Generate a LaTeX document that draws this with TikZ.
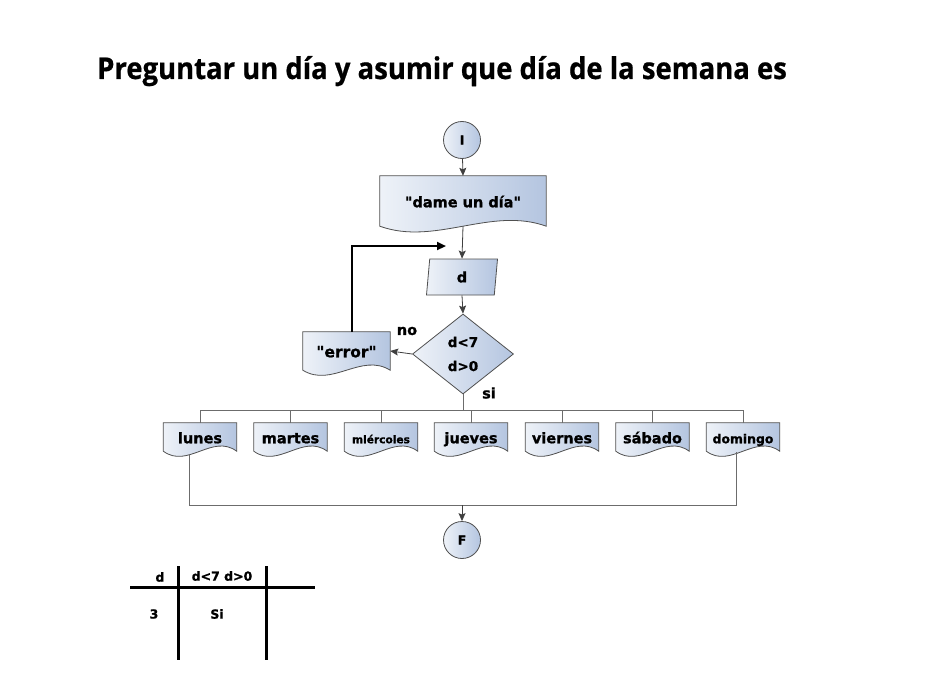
\documentclass[tikz,border=0pt]{standalone}
\usepackage{fontspec}
\setmainfont{DejaVu Sans}
\newfontfamily\titlefont[FakeStretch=0.915,FakeBold=0.6]{Open Sans Bold}
\newfontfamily\lblfont[Ligatures=TeXOff,FakeBold=1.1]{DejaVu Sans Bold}
\usetikzlibrary{shapes.geometric,calc,arrows.meta}
\definecolor{fillA}{HTML}{EEF2F8}
\definecolor{fillB}{HTML}{B4C5E0}
\definecolor{edgec}{HTML}{505050}
\definecolor{linec}{HTML}{404040}
\newcommand\wavedoc[2]{%
  \draw[docdraw] (#1.north west) -- (#1.north east) -- (#1.south east)
    .. controls ($(#1.south east)!0.333!(#1.south west)+(0,-#2)$) and ($(#1.south east)!0.667!(#1.south west)+(0,#2)$) .. (#1.south west) -- cycle;
  \node[lbl, text height=10.5pt, text depth=3pt, inner sep=0pt] at ($(#1.center)+(0,2.5)$) {\docText};}
\tikzset{
  x=1pt,y=-1pt,
  lbl/.style={font=\lblfont\fontsize{14.5}{17}\selectfont},
  shade/.style={left color=fillA, right color=fillB},
  docdraw/.style={draw=edgec, line width=0.8pt, shade},
  docnode/.style={rectangle, inner sep=0pt, minimum width=73pt, minimum height=28pt},
  circ/.style={circle, draw=edgec, line width=0.8pt, shade, minimum size=37pt, inner sep=0pt, font=\lblfont\fontsize{12.5}{14}\selectfont},
  conn/.style={draw=linec, line width=0.8pt},
  arr/.style={conn, -{Stealth[length=8pt,width=7pt,inset=1.5pt]}},
  gline/.style={draw=gray!85!black, line width=0.8pt},
  tline/.style={draw=black, line width=3pt},
  tlbl/.style={font=\lblfont\fontsize{12.5}{15}\selectfont},
}
\begin{document}
\begin{tikzpicture}
\useasboundingbox (0,0) rectangle (942,682);
\fill[white] (0,0) rectangle (942,682);
% title
\node[anchor=base west, inner sep=0pt, font=\titlefont\fontsize{30}{34}\selectfont] (title) at (97,79) {Preguntar un día y asumir que día de la semana es};
% start
\node[circ] (I) at (462,140) {I};
% document dame
\node[docnode, minimum width=166pt, minimum height=50pt] (dame) at (463,201) {};
\def\docText{"dame un día"}\wavedoc{dame}{20}
% input
\node[trapezium, trapezium left angle=74, trapezium right angle=106, trapezium stretches body, draw=edgec, line width=0.8pt, shade, minimum width=71pt, minimum height=36pt, inner sep=0pt, lbl] (d) at (462,277) {d};
% decision
\node[diamond, draw=edgec, line width=0.8pt, shade, minimum width=101pt, minimum height=80pt, inner sep=0pt, shape aspect=1.26, align=center, font=\lblfont\fontsize{13.5}{24}\selectfont] (cond) at (463,354) {d<7\\d>0};
% error
\node[docnode, minimum width=87pt, minimum height=38pt] (err) at (346.5,351) {};
\def\docText{\fontsize{15.5}{17}\selectfont"error"}\wavedoc{err}{18}
\node[lbl, inner sep=0pt] (no) at (407,331) {no};
\node[lbl, inner sep=0pt] (si) at (489,393) {si};
% days
\node[docnode] (lunes) at (200,437) {};
\def\docText{lunes}\wavedoc{lunes}{18}
\node[docnode] (martes) at (290.5,437) {};
\def\docText{martes}\wavedoc{martes}{18}
\node[docnode] (mier) at (381,437) {};
\def\docText{\fontsize{10.6}{12}\selectfont mlércoles}\wavedoc{mier}{18}
\node[docnode] (jueves) at (471,437) {};
\def\docText{jueves}\wavedoc{jueves}{18}
\node[docnode] (viernes) at (562,437) {};
\def\docText{viernes}\wavedoc{viernes}{18}
\node[docnode] (sabado) at (652.5,437) {};
\def\docText{sábado}\wavedoc{sabado}{18}
\node[docnode] (domingo) at (743,437) {};
\def\docText{\fontsize{12.4}{14}\selectfont domingo}\wavedoc{domingo}{18}
% end
\node[circ] (F) at (462,540) {F};
% connectors
\draw[arr] (I) -- (dame.north);
\draw[arr] (dame.south) -- (d.north);
\draw[arr] (d.south) -- (cond.north);
\draw[arr] (cond.west) -- (err.east);
\coordinate (loopend) at (446,246);
\draw[tline, line width=2.4pt, -{Triangle[length=9pt,width=8pt]}] (err.north -| 352,0) -- (352,246) -- (loopend);
\coordinate (branch) at (463,410);
\draw[gline] (cond.south) -- (branch);
\draw[gline] (lunes.north |- branch) -- (domingo.north |- branch);
\foreach \n in {lunes,martes,mier,jueves,viernes,sabado,domingo}
  \draw[gline] (\n.north |- branch) -- (\n.north);
\coordinate (bl) at (189,505);
\coordinate (br) at (736,505);
\draw[gline] ($(lunes.south)+(-11,4)$) -- (bl) -- (br) -- ($(domingo.south)+(-7,1)$);
\draw[arr] (F |- bl) -- (F.north);
% table
\draw[tline] (130,587) -- (315,587);
\draw[tline] (178,566) -- (178,660);
\draw[tline] (266,566) -- (266,660);
\node[tlbl] (t1) at (160,577) {d};
\node[tlbl] (t2) at (222,576) {d<7 d>0};
\node[tlbl] (t3) at (154,614) {3};
\node[tlbl] (t4) at (217,614) {Si};
\end{tikzpicture}
\end{document}
